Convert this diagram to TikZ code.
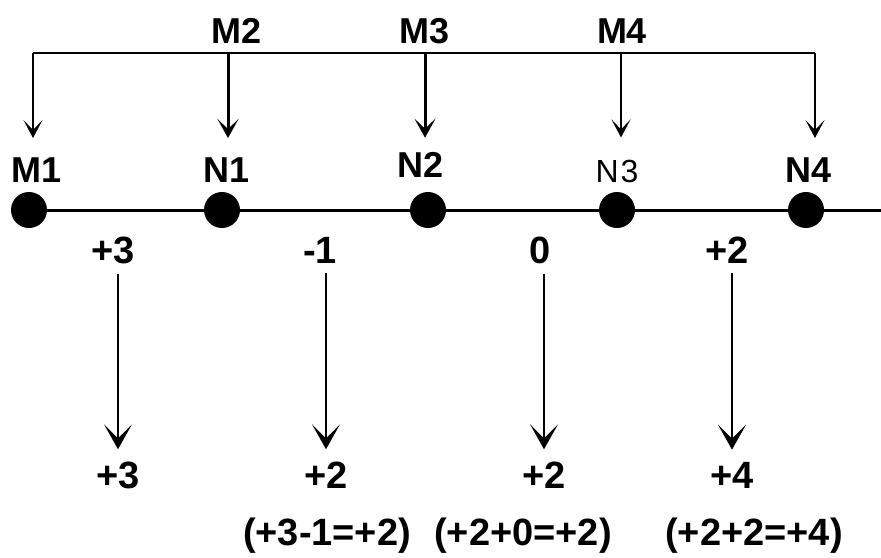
\documentclass[tikz,border=0pt]{standalone}
\usepackage{fontspec}
\setmainfont{Liberation Sans}
\usetikzlibrary{arrows.meta}
\begin{document}
\begin{tikzpicture}[x=1pt,y=-1pt,
  lab/.style={font=\fontsize{36}{40}\selectfont\bfseries, inner sep=0pt, anchor=base},
  num/.style={font=\fontsize{38}{42}\selectfont\bfseries, inner sep=0pt, anchor=base},
  dot/.style={circle, fill=black, draw=none, minimum size=36pt, inner sep=0pt},
  topar/.style={-{Stealth[length=18pt,width=19pt,inset=10pt]}, line width=2pt},
  topthick/.style={-{Stealth[length=19pt,width=21pt,inset=10pt]}, line width=3pt},
  botar/.style={-{Stealth[length=25pt,width=28pt,inset=14pt]}, line width=2pt,
                shorten <=10pt, shorten >=12pt},
  bar/.style={line width=2.5pt}]
\useasboundingbox (0,0) rectangle (881,557);
\fill[white] (0,0) rectangle (881,557);

% top labels
\node[lab] (lM2) at (237,43) {M2};
\node[lab] (lM3) at (425,43) {M3};
\node[lab] (lM4) at (622,43) {M4};

% bracket
\coordinate (b1) at (33,53);
\coordinate (b2) at (228,53);
\coordinate (b3) at (425,53);
\coordinate (b4) at (621,53);
\coordinate (b5) at (815,53);
\draw[bar] (b1) -- (b5);

% point labels
\node[lab] (lM1) at (37,182) {M1};
\node[lab] (lN1) at (227,182) {N1};
\node[lab] (lN2) at (421,177) {N2};
\node[font=\fontsize{32}{36}\selectfont, inner sep=0pt, anchor=base] (lN3) at (617,182) {N\hspace{2pt}3};
\node[lab] (lN4) at (809,182) {N4};

\draw[topar, shorten >=19pt] (b1) -- (b1 |- lM1.north);
\draw[topthick, shorten >=19pt] (b2) -- (b2 |- lN1.north);
\draw[topthick, shorten >=14pt] (b3) -- (b3 |- lN2.north);
\draw[topar, shorten >=22pt] (b4) -- (b4 |- lN3.north);
\draw[topar, shorten >=19pt] (b5) -- (b5 |- lN4.north);

% number line
\node[dot] (d1) at (29,210) {};
\node[dot] (d2) at (222,210) {};
\node[dot] (d3) at (428,210) {};
\node[dot] (d4) at (617,210) {};
\node[dot] (d5) at (806,210) {};
\coordinate (rend) at (881,210);
\draw[line width=3pt] (d1) -- (d2) (d2) -- (d3) (d3) -- (d4) (d4) -- (d5) (d5) -- (rend);

% segment values
\node[num] (tA) at (113,263) {+3};
\node[num] (tB) at (320,263) {-1};
\node[num] (tC) at (540,263) {0};
\node[num] (tD) at (727,263) {+2};

% results
\node[num] (rA) at (118,488) {+3};
\node[num] (rB) at (326,488) {+2};
\node[num] (rC) at (544,488) {+2};
\node[num] (rD) at (732,488) {+4};

\draw[botar] (rA.north |- tA.south) -- (rA.north);
\draw[botar] (rB.north |- tB.south) -- (rB.north);
\draw[botar] (rC.north |- tC.south) -- (rC.north);
\draw[botar] (rD.north |- tD.south) -- (rD.north);

% equations
\node[num] (eB) at (327,545) {(+3-1=+2)};
\node[num] (eC) at (523,545) {(+2+0=+2)};
\node[num] (eD) at (754,545) {(+2+2=+4)};
\end{tikzpicture}
\end{document}
